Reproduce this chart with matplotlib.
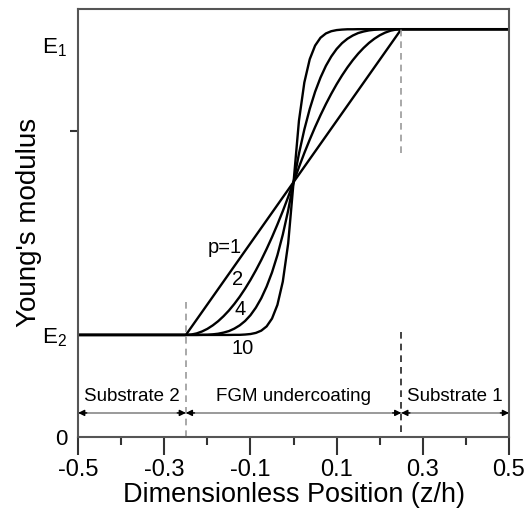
import matplotlib
matplotlib.use("Agg")
import matplotlib.pyplot as plt

plt.rcParams["font.family"] = ["Liberation Sans", "DejaVu Sans"]
plt.rcParams["mathtext.fontset"] = "custom"
plt.rcParams["mathtext.rm"] = "Liberation Sans"

# positions z/h (flat substrates at both ends, FGM layer sampled in between)
Z = [-0.5,
     -0.25, -0.2375, -0.225, -0.2125, -0.2, -0.1875, -0.175, -0.1625, -0.15, -0.1375,
     -0.125, -0.1125, -0.1, -0.0875, -0.075, -0.0625, -0.05, -0.0375, -0.025, -0.0125,
     0.0, 0.0125, 0.025, 0.0375, 0.05, 0.0625, 0.075, 0.0875, 0.1, 0.1125,
     0.125, 0.1375, 0.15, 0.1625, 0.175, 0.1875, 0.2, 0.2125, 0.225, 0.2375, 0.25,
     0.5]

# Young's modulus in axis units (E2 = 1, E1 = 4)
E_P1 = [1.0,
        1.0, 1.075, 1.15, 1.225, 1.3, 1.375, 1.45, 1.525, 1.6, 1.675,
        1.75, 1.825, 1.9, 1.975, 2.05, 2.125, 2.2, 2.275, 2.35, 2.425,
        2.5, 2.575, 2.65, 2.725, 2.8, 2.875, 2.95, 3.025, 3.1, 3.175,
        3.25, 3.325, 3.4, 3.475, 3.55, 3.625, 3.7, 3.775, 3.85, 3.925, 4.0,
        4.0]
E_P2 = [1.0,
        1.0, 1.004, 1.015, 1.034, 1.06, 1.094, 1.135, 1.184, 1.24, 1.304,
        1.375, 1.454, 1.54, 1.634, 1.735, 1.844, 1.96, 2.084, 2.215, 2.354,
        2.5, 2.646, 2.785, 2.916, 3.04, 3.156, 3.265, 3.366, 3.46, 3.546,
        3.625, 3.696, 3.76, 3.816, 3.865, 3.906, 3.94, 3.966, 3.985, 3.996, 4.0,
        4.0]
E_P4 = [1.0,
        1.0, 1.0, 1.0, 1.001, 1.002, 1.006, 1.012, 1.023, 1.038, 1.062,
        1.094, 1.137, 1.194, 1.268, 1.36, 1.475, 1.614, 1.783, 1.984, 2.222,
        2.5, 2.778, 3.016, 3.217, 3.386, 3.525, 3.64, 3.732, 3.806, 3.863,
        3.906, 3.938, 3.962, 3.977, 3.988, 3.994, 3.998, 3.999, 4.0, 4.0, 4.0,
        4.0]
E_P10 = [1.0,
         1.0, 1.0, 1.0, 1.0, 1.0, 1.0, 1.0, 1.0, 1.0, 1.001,
         1.001, 1.004, 1.009, 1.02, 1.042, 1.084, 1.161, 1.295, 1.523, 1.898,
         2.5, 3.102, 3.477, 3.705, 3.839, 3.916, 3.958, 3.98, 3.991, 3.996,
         3.999, 3.999, 4.0, 4.0, 4.0, 4.0, 4.0, 4.0, 4.0, 4.0, 4.0,
         4.0]

CURVE_LABELS = ["p=1", "2", "4", "10"]
LABEL_X = [-0.159, -0.129, -0.124, -0.119]
LABEL_Y = [1.86, 1.54, 1.245, 0.87]

REGIONS = ["Substrate 2", "FGM undercoating", "Substrate 1"]
REGION_BOUNDS = [(-0.5, -0.25), (-0.25, 0.25), (0.25, 0.5)]

X_TICKS = [-0.5, -0.3, -0.1, 0.1, 0.3, 0.5]
X_MINOR = [-0.4, -0.2, 0.0, 0.2, 0.4]

fig = plt.figure(figsize=(5.28, 5.17), dpi=100)
ax = fig.add_axes([0.148, 0.155, 0.816, 0.828])

for e in (E_P1, E_P2, E_P4, E_P10):
    ax.plot(Z, e, color="black", lw=1.7, solid_joinstyle="round")

for lab, lx, ly in zip(CURVE_LABELS, LABEL_X, LABEL_Y):
    ax.text(lx, ly, lab, fontsize=14.5, ha="center", va="center")

# boundaries of the FGM layer
ax.plot([-0.25, -0.25], [0.0, 1.36], color="#9a9a9a", lw=1.2, ls=(0, (4, 3)))
ax.plot([0.25, 0.25], [0.05, 1.08], color="#222222", lw=1.2, ls=(0, (4, 3)))
ax.plot([0.25, 0.25], [2.79, 4.0], color="#9a9a9a", lw=1.2, ls=(0, (4, 3)))

# region extents
y_arr = 0.235
ax.plot([-0.5, 0.5], [y_arr, y_arr], color="#9a9a9a", lw=1.4)
for name, (a, b) in zip(REGIONS, REGION_BOUNDS):
    for tip, tail in ((a, a + 0.02), (b, b - 0.02)):
        ax.annotate("", xy=(tip, y_arr), xytext=(tail, y_arr),
                    arrowprops=dict(arrowstyle="-|>", color="black", lw=1.0,
                                    mutation_scale=9, shrinkA=0, shrinkB=0))
    ax.text((a + b) / 2, 0.40, name, fontsize=13.5, ha="center", va="center")

ax.set_xlim(-0.5, 0.5)
ax.set_ylim(0, 4.2)
ax.set_xticks(X_TICKS)
ax.set_xticklabels([f"{v:g}" for v in X_TICKS])
ax.set_xticks(X_MINOR, minor=True)
ax.tick_params(axis="x", which="major", length=13, width=1.5, direction="out",
               labelsize=17, pad=3, color="#333333")
ax.tick_params(axis="x", which="minor", length=6, width=1.5, direction="out",
               color="#333333")

ax.set_yticks([0, 1, 3.85])
ax.set_yticklabels(["0", "E$_2$", "E$_1$"])
ax.set_yticks([3.0], minor=True)
ax.tick_params(axis="y", which="major", length=0, labelsize=16, pad=8)
ax.tick_params(axis="y", which="minor", length=6, width=1.5, direction="out",
               color="#333333")

for sp in ax.spines.values():
    sp.set_color("#555555")
    sp.set_linewidth(1.5)

ax.set_xlabel("Dimensionless Position (z/h)", fontsize=19.5, labelpad=1)
ax.set_ylabel("Young's modulus", fontsize=20, labelpad=0)

fig.savefig("out.png", dpi=100)
